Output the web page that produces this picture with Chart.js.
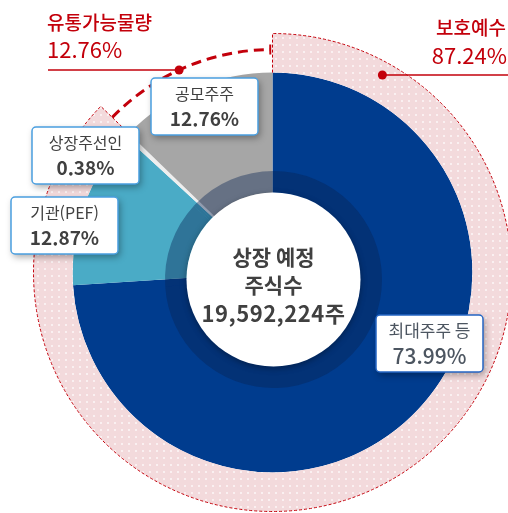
<!DOCTYPE html>
<html lang="ko">
<head>
<meta charset="utf-8">
<title>상장 예정 주식수</title>
<script src="https://cdn.jsdelivr.net/npm/chart.js@4.4.1/dist/chart.umd.min.js"></script>
<style>
  html, body { margin: 0; padding: 0; background: #fff; overflow: hidden; }
  #wrap { position: relative; width: 508px; height: 513px; }
  #wrap canvas { position: absolute; left: 0; top: 0; }
</style>
</head>
<body>
<div id="wrap">
  <canvas id="main" width="508" height="513"></canvas>
  <canvas id="inner" width="508" height="513"></canvas>
</div>
<script>
// --- data ---
const holders = ['최대주주 등', '기관(PEF)', '상장주선인', '공모주주'];
const shares = [73.99, 12.87, 0.38, 12.76];
const lockupLabels = ['보호예수', '유통가능물량'];
const lockupShares = [87.24, 12.76];
const centerLines = ['상장 예정', '주식수', '19,592,224주'];

// --- styles ---
const holderColors = ['#003c8e', '#4aabc6', '#eeeeee', '#a6a6a6'];
const RED = '#c3000b';
const TEXT = '#404040';
const FONT = '"Noto Sans CJK KR", "Noto Sans", sans-serif';
// label box top-left corners, same order as holders
const boxPos = [[376, 315], [11, 197], [32, 127], [151, 78]];
const BOX_W = 107, BOX_H = 57;

function makeDots() {
  const c = document.createElement('canvas');
  c.width = 7; c.height = 7;
  const g = c.getContext('2d');
  g.fillStyle = '#f3dadc';
  g.fillRect(0, 0, 7, 7);
  g.fillStyle = 'rgba(255,255,255,0.6)';
  g.fillRect(2, 2, 2, 2);
  return g.createPattern(c, 'repeat');
}
const pinkDots = makeDots();

const polar = (x, y, r, a) => [x + r * Math.cos(a), y + r * Math.sin(a)];

const mainChart = new Chart(document.getElementById('main'), {
  type: 'doughnut',
  data: {
    labels: holders,
    datasets: [
      { label: '보호예수', data: lockupShares, backgroundColor: [pinkDots, 'rgba(0,0,0,0)'],
        borderWidth: 0, hoverBorderWidth: 0, weight: 39 },
      { label: '주주', data: shares, backgroundColor: holderColors,
        borderWidth: 0, hoverBorderWidth: 0, weight: 124.5 }
    ]
  },
  options: {
    responsive: false,
    animation: false,
    events: [],
    radius: 239,
    cutout: '31.4%',
    layout: { padding: { left: 37, top: 32, right: 0, bottom: 0 } },
    plugins: { legend: { display: false }, tooltip: { enabled: false } }
  }
});

// white centre + total text
const centerPlugin = {
  id: 'centerText',
  afterDatasetsDraw(chart) {
    const arc = chart.getDatasetMeta(0).data[0];
    const { x, y, innerRadius } = arc.getProps(['x', 'y', 'innerRadius'], true);
    const ctx = chart.ctx;
    ctx.save();
    ctx.shadowColor = 'rgba(0,0,0,0.35)';
    ctx.shadowBlur = 6;
    ctx.shadowOffsetY = 2;
    ctx.fillStyle = '#fff';
    ctx.beginPath();
    ctx.arc(x, y, innerRadius, 0, Math.PI * 2);
    ctx.fill();
    ctx.restore();
    ctx.save();
    ctx.fillStyle = TEXT;
    ctx.textAlign = 'center';
    ctx.textBaseline = 'middle';
    ctx.font = 'bold 21px ' + FONT;
    ctx.fillText(centerLines[0], x, y - 22);
    ctx.fillText(centerLines[1], x, y + 6);
    ctx.font = 'bold 22px ' + FONT;
    ctx.letterSpacing = '0.5px';
    ctx.fillText(centerLines[2], x, y + 34);
    ctx.restore();
  }
};

// red lock-up annotations + label boxes
const annotPlugin = {
  id: 'annot',
  afterDraw(chart) {
    const ctx = chart.ctx;
    const lock = mainChart.getDatasetMeta(0).data;
    const p0 = lock[0].getProps(['x', 'y', 'startAngle', 'endAngle', 'innerRadius', 'outerRadius'], true);
    const p1 = lock[1].getProps(['startAngle', 'endAngle'], true);
    const { x, y } = p0;

    // dashed outline of 보호예수 ring
    ctx.save();
    ctx.strokeStyle = RED;
    ctx.lineWidth = 1;
    ctx.setLineDash([3, 2]);
    ctx.beginPath();
    ctx.moveTo(...polar(x, y, p0.innerRadius, p0.startAngle));
    ctx.lineTo(...polar(x, y, p0.outerRadius, p0.startAngle));
    ctx.arc(x, y, p0.outerRadius, p0.startAngle, p0.endAngle);
    ctx.lineTo(...polar(x, y, p0.innerRadius, p0.endAngle));
    ctx.stroke();
    ctx.restore();

    // thick dashed arc for 유통가능물량
    const rFloat = p0.outerRadius - 16;
    ctx.save();
    ctx.strokeStyle = RED;
    ctx.lineWidth = 3;
    ctx.setLineDash([10, 6]);
    ctx.beginPath();
    ctx.arc(x, y, rFloat, p1.startAngle, p1.endAngle - 0.01);
    ctx.stroke();
    ctx.setLineDash([]);
    ctx.lineWidth = 2;
    ctx.beginPath();
    ctx.moveTo(...polar(x, y, rFloat - 5, p1.endAngle - 0.01));
    ctx.lineTo(...polar(x, y, rFloat + 5, p1.endAngle - 0.01));
    ctx.stroke();
    ctx.restore();

    // leaders
    const leader = (r, ly, side, xEnd) => {
      const dxp = x + Math.sqrt(r * r - (ly - y) * (ly - y)) * side;
      ctx.save();
      ctx.strokeStyle = RED;
      ctx.fillStyle = RED;
      ctx.lineWidth = 1.5;
      ctx.beginPath();
      ctx.moveTo(dxp, ly);
      ctx.lineTo(xEnd, ly);
      ctx.stroke();
      ctx.beginPath();
      ctx.arc(dxp, ly, 4.5, 0, Math.PI * 2);
      ctx.fill();
      ctx.restore();
    };
    leader(rFloat, 70, -1, 48);
    leader(p0.outerRadius - 13, 75, 1, 508);

    ctx.save();
    ctx.fillStyle = RED;
    ctx.textBaseline = 'middle';
    ctx.textAlign = 'left';
    ctx.font = '500 19px ' + FONT;
    ctx.fillText(lockupLabels[1], 47, 23);
    ctx.font = '22px ' + FONT;
    ctx.fillText(lockupShares[1].toFixed(2) + '%', 47, 50);
    ctx.textAlign = 'right';
    ctx.font = '500 19px ' + FONT;
    ctx.fillText(lockupLabels[0], 506, 28);
    ctx.font = '22px ' + FONT;
    ctx.fillText(lockupShares[0].toFixed(2) + '%', 507, 56);
    ctx.restore();

    // label boxes
    holders.forEach((name, i) => {
      const [bx, by] = boxPos[i];
      ctx.save();
      ctx.shadowColor = 'rgba(0,0,0,0.35)';
      ctx.shadowBlur = 7;
      ctx.shadowOffsetX = 2;
      ctx.shadowOffsetY = 3;
      ctx.fillStyle = '#fff';
      ctx.beginPath();
      ctx.roundRect(bx, by, BOX_W, BOX_H, 4);
      ctx.fill();
      ctx.restore();
      ctx.save();
      ctx.strokeStyle = i === 0 ? '#2566c4' : '#4a9fe0';
      ctx.lineWidth = 1.5;
      ctx.beginPath();
      ctx.roundRect(bx, by, BOX_W, BOX_H, 4);
      ctx.stroke();
      ctx.fillStyle = i === 0 ? '#4c5560' : TEXT;
      ctx.textAlign = 'center';
      ctx.textBaseline = 'middle';
      const cx = bx + BOX_W / 2;
      ctx.font = (i === 0 ? '17px ' : '16px ') + FONT;
      ctx.fillText(name, cx, by + 16);
      ctx.font = (i === 0 ? '500 21px ' : 'bold 19px ') + FONT;
      ctx.fillText(shares[i].toFixed(2) + '%', cx, by + 41);
      ctx.restore();
    });
  }
};

const innerChart = new Chart(document.getElementById('inner'), {
  type: 'doughnut',
  data: {
    labels: holders,
    datasets: [
      { label: '주주', data: shares, backgroundColor: 'rgba(8,34,82,0.4)',
        borderWidth: 0, hoverBorderWidth: 0 }
    ]
  },
  options: {
    responsive: false,
    animation: false,
    events: [],
    radius: 108.5,
    cutout: '80.2%',
    layout: { padding: { left: 39, top: 46, right: 0, bottom: 0 } },
    plugins: { legend: { display: false }, tooltip: { enabled: false } }
  },
  plugins: [centerPlugin, annotPlugin]
});
</script>
</body>
</html>
